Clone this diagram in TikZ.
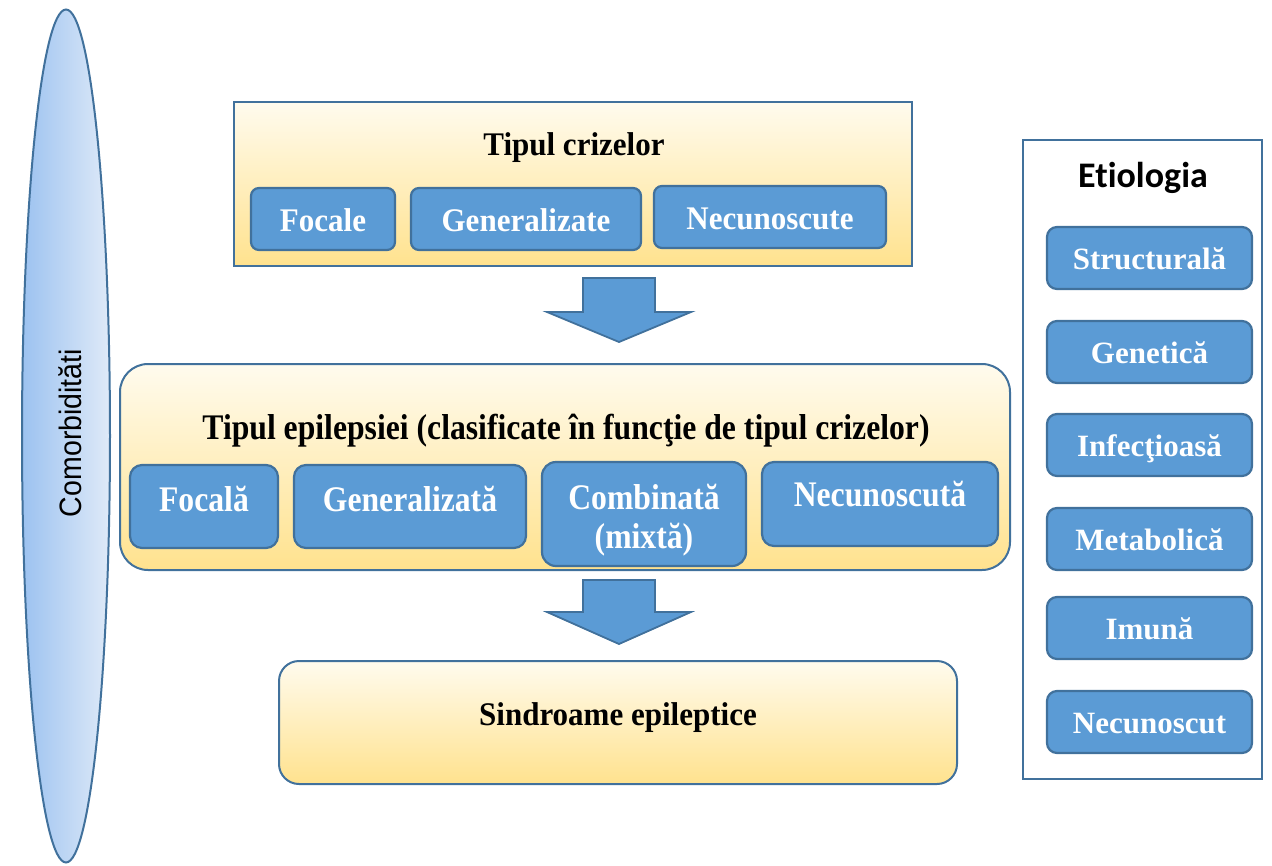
\documentclass[tikz,border=0pt]{standalone}
\usepackage{fontspec}
\setmainfont{Liberation Serif}
\newfontfamily\condA[FakeStretch=0.94]{Liberation Serif}
\newfontfamily\condB[FakeStretch=0.88]{Liberation Serif}
\newfontfamily\calib[Ligatures=NoCommon]{Carlito}
\newfontfamily\arialf[FakeStretch=0.92]{Liberation Sans}
\usetikzlibrary{shapes.geometric}
\definecolor{bordc}{HTML}{41719C}
\definecolor{subblue}{HTML}{5B9BD5}
\definecolor{ytop}{HTML}{FFFBEE}
\definecolor{ybot}{HTML}{FFE28E}
\definecolor{elL}{HTML}{9CC2F0}
\definecolor{elR}{HTML}{DFEAF8}
\begin{document}
\begin{tikzpicture}[x=1pt,y=-1pt,
  bord/.style={draw=bordc, line width=2pt},
  ybox/.style={bord, top color=ytop, bottom color=ybot, inner sep=0pt},
  sub/.style={draw=bordc, line width=2.2pt, fill=subblue, inner sep=0pt},
  toptxt/.style={anchor=base, font=\condA\bfseries\fontsize{33}{38}\selectfont},
  midtxt/.style={anchor=base, font=\condB\bfseries\fontsize{36}{40}\selectfont},
  righttxt/.style={anchor=base, font=\bfseries\fontsize{31}{36}\selectfont, text=white},
  blockarrow/.style={draw=bordc, line width=1.8pt, fill=subblue, line join=miter}]
\useasboundingbox (0,0) rectangle (1272,865);
% ellipse
\node[ellipse, draw=bordc, line width=2pt, left color=elL, right color=elR,
  minimum width=88pt, minimum height=853pt, inner sep=0pt] (ell) at (66,436) {};
\node[rotate=90, font=\arialf\fontsize{31}{34}\selectfont] (elltxt) at (70,433) {Comorbidităti};
% top box
\node[ybox, minimum width=678pt, minimum height=164pt] (top) at (573,184) {};
\node[toptxt] (toptitle) at (574,155) {Tipul crizelor};
\node[sub, rounded corners=8pt, minimum width=144pt, minimum height=62pt] (t1) at (323,219) {};
\node[sub, rounded corners=8pt, minimum width=230pt, minimum height=62pt] (t2) at (526,219) {};
\node[sub, rounded corners=8pt, minimum width=232pt, minimum height=62pt] (t3) at (770,217) {};
\node[toptxt, text=white] (t1t) at (323,231) {Focale};
\node[toptxt, text=white] (t2t) at (526,231) {Generalizate};
\node[toptxt, text=white] (t3t) at (770,229) {Necunoscute};
% arrow 1
\coordinate (a1) at (619,278);
\draw[blockarrow] ([xshift=-36pt]a1) -- ([xshift=36pt]a1) -- ([xshift=36pt,yshift=-34pt]a1)
  -- ([xshift=72pt,yshift=-34pt]a1) -- ([yshift=-64pt]a1) -- ([xshift=-72pt,yshift=-34pt]a1)
  -- ([xshift=-36pt,yshift=-34pt]a1) -- cycle;
% middle box
\node[ybox, rounded corners=28pt, minimum width=890pt, minimum height=206pt] (mid) at (565,467) {};
\node[midtxt] (midtitle) at (566,439) {Tipul epilepsiei (clasificate în funcţie de tipul crizelor)};
\node[sub, rounded corners=12pt, minimum width=148pt, minimum height=83pt] (m1) at (204,506.5) {};
\node[sub, rounded corners=12pt, minimum width=232pt, minimum height=83pt] (m2) at (410,506.5) {};
\node[sub, rounded corners=14pt, minimum width=204pt, minimum height=104pt] (m3) at (644,514) {};
\node[sub, rounded corners=12pt, minimum width=236pt, minimum height=84pt] (m4) at (880,504) {};
\node[midtxt, text=white] (m1t) at (204,511) {Focală};
\node[midtxt, text=white] (m2t) at (410,511) {Generalizată};
\node[midtxt, text=white] (m3t) at (644,509) {Combinată};
\node[midtxt, text=white] (m3u) at (644,548) {(mixtă)};
\node[midtxt, text=white] (m4t) at (880,506) {Necunoscută};
% arrow 2
\coordinate (a2) at (619,580);
\draw[blockarrow] ([xshift=-36pt]a2) -- ([xshift=36pt]a2) -- ([xshift=36pt,yshift=-32pt]a2)
  -- ([xshift=72pt,yshift=-32pt]a2) -- ([yshift=-64pt]a2) -- ([xshift=-72pt,yshift=-32pt]a2)
  -- ([xshift=-36pt,yshift=-32pt]a2) -- cycle;
% bottom box
\node[ybox, rounded corners=20pt, minimum width=678pt, minimum height=123pt] (bot) at (618,722.5) {};
\node[toptxt] (bott) at (618,725) {Sindroame epileptice};
% right box
\node[bord, fill=white, minimum width=239pt, minimum height=639pt, inner sep=0pt] (eti) at (1142.5,459.5) {};
\node[anchor=base, font=\calib\bfseries\fontsize{36}{40}\selectfont] (etit) at (1143,187) {Etiologia};
\foreach \n/\y/\t in {1/258/Structurală, 2/352/Genetică, 3/445/Infecţioasă, 4/539/Metabolică, 5/628/Imună, 6/722/Necunoscut}{
  \node[sub, rounded corners=10pt, minimum width=205pt, minimum height=62pt] (e\n) at (1149.5,\y) {};
  \node[righttxt] (e\n t) at (1149.5,\y+11) {\t};
}
\end{tikzpicture}
\end{document}
